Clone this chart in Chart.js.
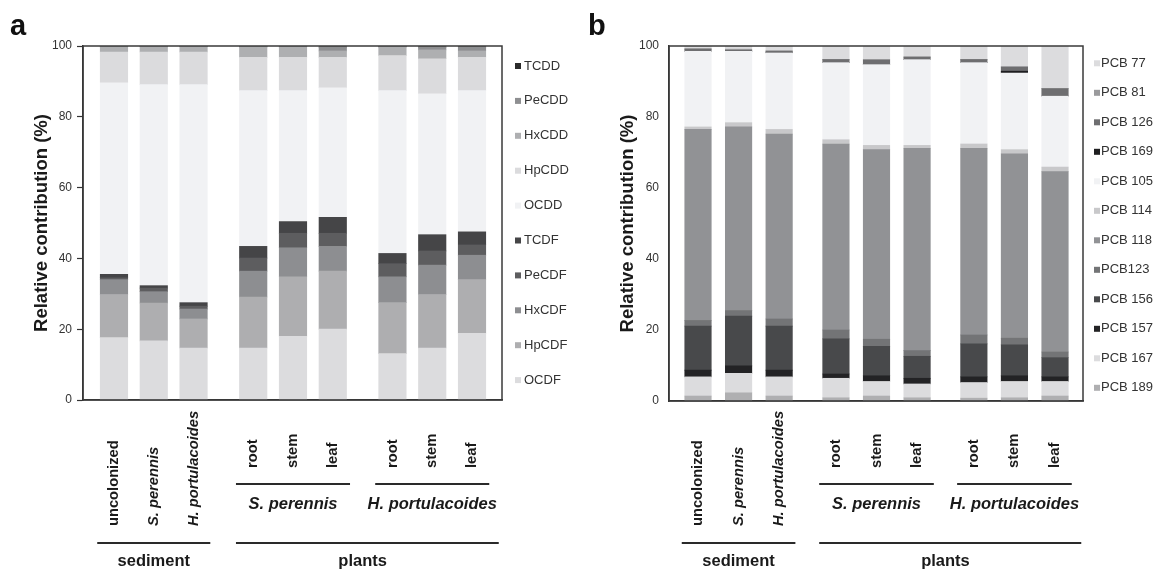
<!DOCTYPE html>
<html>
<head>
<meta charset="utf-8">
<script src="https://cdn.jsdelivr.net/npm/chart.js@4.4.1/dist/chart.umd.min.js"></script>
<style>
  html, body { margin: 0; padding: 0; background: #ffffff; }
  canvas { position: absolute; top: 0; }
  #ca { left: 0; }
  #cb { left: 576px; }
</style>
</head>
<body>
<canvas id="ca" width="576" height="572"></canvas>
<canvas id="cb" width="577" height="572"></canvas>
<script>
// ---------- categories ----------
const categories = ["uncolonized", "S. perennis", "H. portulacoides", "root", "stem", "leaf", "root", "stem", "leaf"];
const categoryGroup = [0, 0, 0, 1, 1, 1, 2, 2, 2];
const subGroupLabels = ["S. perennis", "H. portulacoides"];   // groups 1 and 2
const mainGroupLabels = ["sediment", "plants"];
const yTicks = [0, 20, 40, 60, 80, 100];
const yTitle = "Relative contribution (%)";

// ---------- panel a : PCDD/F (stack order bottom -> top) ----------
const dioxinNames = ["OCDF", "HpCDF", "HxCDF", "PeCDF", "TCDF", "OCDD", "HpCDD", "HxCDD", "PeCDD", "TCDD"];
const OCDF  = [17.6, 16.7, 14.7, 14.7, 18.0, 20.0, 13.1, 14.7, 18.8];
const HpCDF = [12.2, 10.7, 8.2, 14.4, 16.8, 16.4, 14.4, 15.1, 15.2];
const HxCDF = [4.2, 3.2, 2.8, 7.3, 8.2, 7.0, 7.3, 8.3, 6.9];
const PeCDF = [0.5, 1.0, 0.8, 3.7, 4.1, 3.7, 3.7, 4.0, 2.9];
const TCDF  = [1.0, 0.7, 1.0, 3.3, 3.3, 4.5, 2.9, 4.6, 3.7];
const OCDD  = [54.1, 56.8, 61.6, 44.0, 37.0, 36.6, 46.0, 39.8, 39.9];
const HpCDD = [8.7, 9.2, 9.2, 9.4, 9.4, 8.6, 9.9, 9.9, 9.4];
const HxCDD = [1.4, 1.5, 1.5, 2.9, 2.9, 1.8, 2.4, 2.5, 1.8];
const PeCDD = [0.2, 0.2, 0.2, 0.2, 0.2, 1.1, 0.2, 0.8, 1.1];
const TCDD  = [0.1, 0.0, 0.0, 0.1, 0.1, 0.1, 0.1, 0.1, 0.1];
const dioxinValues = [OCDF, HpCDF, HxCDF, PeCDF, TCDF, OCDD, HpCDD, HxCDD, PeCDD, TCDD];
const dioxinColors = ["#dcdcde", "#aeaeb0", "#8d8e91", "#5d5d5f", "#454547", "#f1f2f4", "#dbdbdd", "#aeafb1", "#8e8f91", "#2b2b2b"];

// ---------- panel b : PCB (stack order bottom -> top) ----------
const pcbNames = ["PCB 189", "PCB 167", "PCB 157", "PCB 156", "PCB123", "PCB 118", "PCB 114", "PCB 105", "PCB 169", "PCB 126", "PCB 81", "PCB 77"];
const PCB189 = [1.4, 2.3, 1.4, 0.9, 1.4, 0.9, 0.8, 0.9, 1.4];
const PCB167 = [5.4, 5.5, 5.4, 5.5, 4.1, 3.9, 4.4, 4.6, 4.1];
const PCB157 = [1.9, 2.1, 1.9, 1.2, 1.6, 1.6, 1.6, 1.6, 1.3];
const PCB156 = [12.4, 14.0, 12.4, 9.9, 8.3, 6.2, 9.3, 8.7, 5.4];
const PCB123 = [1.6, 1.6, 2.0, 2.5, 2.0, 1.6, 2.5, 1.9, 1.6];
const PCB118 = [53.8, 51.7, 52.1, 52.4, 53.4, 57.0, 52.6, 51.9, 50.8];
const PCB114 = [0.7, 1.2, 1.3, 1.2, 1.2, 0.8, 1.2, 1.2, 1.3];
const PCB105 = [21.3, 20.1, 21.6, 21.7, 22.8, 24.2, 22.9, 21.6, 20.0];
const PCB169 = [0.0, 0.0, 0.0, 0.0, 0.0, 0.0, 0.0, 0.5, 0.0];
const PCB126 = [0.6, 0.3, 0.4, 0.9, 1.3, 0.7, 0.9, 1.2, 2.1];
const PCB81  = [0.2, 0.3, 0.2, 0.0, 0.0, 0.0, 0.0, 0.0, 0.0];
const PCB77  = [0.7, 0.9, 1.3, 3.8, 3.9, 3.1, 3.8, 5.9, 12.0];
const pcbValues = [PCB189, PCB167, PCB157, PCB156, PCB123, PCB118, PCB114, PCB105, PCB169, PCB126, PCB81, PCB77];
const pcbColors = ["#afafb1", "#dcdcde", "#232325", "#48494b", "#737476", "#919295", "#c8c8ca", "#f1f2f4", "#1e1e20", "#6e6e70", "#9a9a9c", "#dcdcde"];

// ---------- drawing ----------
const FONT = '"Liberation Sans", Arial, Helvetica, sans-serif';
Chart.defaults.font.family = FONT;
const isSpecies = s => /^[A-Z]\. /.test(s);

const deco = {
  id: 'deco',
  afterDraw(chart) {
    const P = chart.options.plugins.deco;
    const { ctx, chartArea: ca } = chart;
    const x = chart.scales.x;
    const xs = P.xs;
    const half = P.barW / 2;
    ctx.save();
    // frame
    ctx.strokeStyle = '#3a3a3a';
    ctx.lineWidth = 1.5;
    ctx.strokeRect(ca.left, ca.top, ca.right - ca.left, ca.bottom - ca.top);
    // panel letter
    ctx.fillStyle = '#111';
    ctx.font = 'bold 29px ' + FONT;
    ctx.textAlign = 'left';
    ctx.textBaseline = 'alphabetic';
    ctx.fillText(P.letter, P.letterX, 35);
    // y title
    ctx.save();
    ctx.translate(P.titleX, (ca.top + ca.bottom) / 2);
    ctx.rotate(-Math.PI / 2);
    ctx.font = 'bold 18.5px ' + FONT;
    ctx.textAlign = 'center';
    ctx.textBaseline = 'middle';
    ctx.fillStyle = '#1a1a1a';
    ctx.fillText(yTitle, 0, 0);
    ctx.restore();
    // legend (top of stack first)
    const ds = chart.data.datasets;
    ctx.font = '13px ' + FONT;
    ctx.textAlign = 'left';
    ctx.textBaseline = 'middle';
    for (let k = 0; k < ds.length; k++) {
      const d = ds[ds.length - 1 - k];
      const y = P.legY0 + k * P.legDy;
      ctx.fillStyle = d.backgroundColor;
      ctx.fillRect(P.legX, y - 3, 6, 6);
      ctx.fillStyle = '#333';
      ctx.fillText(d.label, P.legX + P.legGap, y);
    }
    // category labels (rotated, bottom-aligned)
    ctx.fillStyle = '#1a1a1a';
    categories.forEach((c, i) => {
      const px = x.getPixelForValue(xs[i]);
      const yb = categoryGroup[i] === 0 ? 526 : 468;
      ctx.save();
      ctx.translate(px, yb);
      ctx.rotate(-Math.PI / 2);
      ctx.font = (isSpecies(c) ? 'italic ' : '') + 'bold 14.7px ' + FONT;
      ctx.textAlign = 'left';
      ctx.textBaseline = 'middle';
      ctx.fillText(c, 0, 0);
      ctx.restore();
    });
    // helper for group extents
    const ext = (g) => {
      const idx = categories.map((_, i) => i).filter(i => categoryGroup[i] === g);
      return [x.getPixelForValue(xs[idx[0]]) - half, x.getPixelForValue(xs[idx[idx.length - 1]]) + half];
    };
    ctx.strokeStyle = '#2a2a2a';
    ctx.lineWidth = 2;
    const line = (x0, x1, y) => { ctx.beginPath(); ctx.moveTo(x0, y); ctx.lineTo(x1, y); ctx.stroke(); };
    // sub groups (species under plants)
    subGroupLabels.forEach((lab, j) => {
      const [a, b] = ext(j + 1);
      line(a - 3.5, b + 3.5, 484);
      ctx.font = 'italic bold 16.5px ' + FONT;
      ctx.textAlign = 'center';
      ctx.textBaseline = 'middle';
      ctx.fillText(lab, (a + b) / 2, 504);
    });
    // main groups
    const [s0, s1] = ext(0);
    line(s0 - 3, s1 + 3, 543);
    const [p0] = ext(1);
    const [, p1] = ext(2);
    line(p0 - 3.5, p1 + 13, 543);
    ctx.font = 'bold 16.5px ' + FONT;
    ctx.textAlign = 'center';
    ctx.textBaseline = 'middle';
    ctx.fillText(mainGroupLabels[0], (s0 + s1) / 2, 561);
    ctx.fillText(mainGroupLabels[1], (p0 + p1) / 2, 561);
    ctx.restore();
  }
};

function buildPanel(id, P) {
  const xs = categories.map((c, i) => i + categoryGroup[i] * P.gap);
  P.xs = xs;
  const datasets = P.names.map((n, k) => ({
    label: n,
    data: P.values[k].map((v, i) => ({ x: xs[i], y: v })),
    backgroundColor: P.colors[k],
    borderWidth: 0,
    barThickness: P.barW
  }));
  const canvas = document.getElementById(id);
  const H = canvas.height;
  new Chart(canvas, {
    type: 'bar',
    data: { datasets },
    options: {
      responsive: false,
      animation: false,
      events: [],
      layout: { padding: { left: 0, top: P.top, right: P.right, bottom: 0 } },
      plugins: { legend: { display: false }, tooltip: { enabled: false }, deco: P },
      scales: {
        x: {
          type: 'linear', stacked: true, offset: false,
          min: P.xmin, max: P.xmax,
          ticks: { display: false },
          grid: { display: false, drawTicks: false },
          border: { display: true, color: '#333', width: 1.5 },
          afterFit(s) { s.height = H - P.bottom; }
        },
        y: {
          stacked: true, min: 0, max: 100,
          afterBuildTicks(s) { s.ticks = yTicks.map(v => ({ value: v })); },
          ticks: { font: { size: 12 }, color: '#333', padding: P.tickPad },
          grid: { drawOnChartArea: false, drawTicks: P.tickLen > 0, tickLength: P.tickLen, tickColor: '#333', tickWidth: 1.2 },
          border: { display: true, color: '#333', width: 1.5 },
          afterFit(s) { s.width = P.left; }
        }
      }
    },
    plugins: [deco]
  });
}

buildPanel('ca', {
  names: dioxinNames, values: dioxinValues, colors: dioxinColors,
  gap: 0.5, barW: 27.5, xmin: -0.779, xmax: 9.754,
  left: 83, top: 46, right: 74, bottom: 400,
  tickLen: 6, tickPad: 5,
  letter: 'a', letterX: 10, titleX: 42,
  legX: 515, legGap: 9, legY0: 66, legDy: 34.9
});

buildPanel('cb', {
  names: pcbNames, values: pcbValues, colors: pcbColors,
  gap: 0.4, barW: 26.5, xmin: -0.715, xmax: 9.49,
  left: 93, top: 46, right: 70, bottom: 401,
  tickLen: 0, tickPad: 10,
  letter: 'b', letterX: 12, titleX: 52,
  legX: 518, legGap: 7, legY0: 63.3, legDy: 29.5
});
</script>
</body>
</html>
